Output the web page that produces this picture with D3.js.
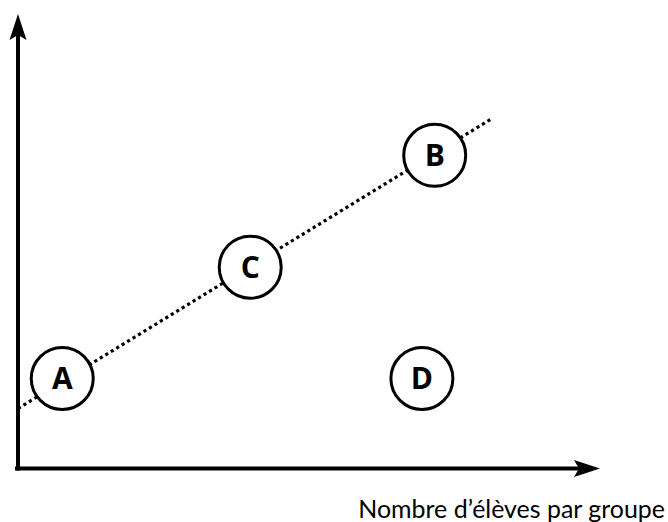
<!DOCTYPE html>
<html>
<head>
<meta charset="utf-8">
<script src="https://cdn.jsdelivr.net/npm/d3@7"></script>
<style>
  html, body { margin: 0; padding: 0; background: #fff; }
  svg { display: block; }
</style>
</head>
<body>
<svg id="chart" width="668" height="522"></svg>
<script>
// ---- data (abstract units, axes have no ticks) ----
const pointLabels = ["A", "C", "B", "D"];
const pointX = [7.6, 39.9, 71.6, 69.4];
const pointY = [19.8, 44.3, 68.9, 19.8];
const trendX = [0, 81.3];
const trendY = [13.2, 76.9];
const xAxisLabel = "Nombre d’élèves par groupe";

// ---- layout ----
const W = 668, H = 522;
const originX = 18, originY = 468.5;
const xEnd = 600, yEnd = 14;

const svg = d3.select("#chart");
const x = d3.scaleLinear().domain([0, 100]).range([originX, xEnd]);
const y = d3.scaleLinear().domain([0, 100]).range([originY, yEnd]);

// axes
const axisColor = "#000";
const headLen = 26, headHalf = 8.5, notch = 5;
svg.append("line")
  .attr("x1", x(0)).attr("y1", originY + 2)
  .attr("x2", x(0)).attr("y2", y(100) + headLen - notch)
  .attr("stroke", axisColor).attr("stroke-width", 4);
svg.append("line")
  .attr("x1", x(0) - 3).attr("y1", y(0))
  .attr("x2", x(100) - headLen + notch).attr("y2", y(0))
  .attr("stroke", axisColor).attr("stroke-width", 4);
const tipY = [x(0), y(100)];
svg.append("path")
  .attr("d", `M${tipY[0]},${tipY[1]} L${tipY[0] + headHalf},${tipY[1] + headLen} L${tipY[0]},${tipY[1] + headLen - notch} L${tipY[0] - headHalf},${tipY[1] + headLen} Z`)
  .attr("fill", axisColor);
const tipX = [x(100), y(0)];
svg.append("path")
  .attr("d", `M${tipX[0]},${tipX[1]} L${tipX[0] - headLen},${tipX[1] - headHalf} L${tipX[0] - headLen + notch},${tipX[1]} L${tipX[0] - headLen},${tipX[1] + headHalf} Z`)
  .attr("fill", axisColor);

// dotted trend line
const lineGen = d3.line().x(d => x(d[0])).y(d => y(d[1]));
svg.append("path")
  .datum(d3.zip(trendX, trendY))
  .attr("d", lineGen)
  .attr("fill", "none")
  .attr("stroke", "#000")
  .attr("stroke-width", 3.2)
  .attr("stroke-dasharray", "3.2 3.2");

// points
const pts = pointLabels.map((l, i) => ({ label: l, x: pointX[i], y: pointY[i] }));
const g = svg.selectAll("g.pt").data(pts).enter().append("g")
  .attr("class", "pt")
  .attr("transform", d => `translate(${x(d.x)},${y(d.y)})`);
g.append("circle")
  .attr("r", 31)
  .attr("fill", "#fff")
  .attr("stroke", "#000")
  .attr("stroke-width", 3);
g.append("text")
  .attr("text-anchor", "middle")
  .attr("dy", "0.36em")
  .attr("font-family", "'Open Sans', Lato, sans-serif")
  .attr("font-weight", "bold")
  .attr("font-size", 30)
  .attr("fill", "#000")
  .text(d => d.label);

// x axis label
const lbl = svg.append("text")
  .attr("x", 665)
  .attr("y", 518)
  .attr("text-anchor", "end")
  .attr("font-family", "Lato, 'Open Sans', sans-serif")
  .attr("font-size", 21)
  .attr("fill", "#000")
  .text(xAxisLabel);
const wTarget = 307;
const wNow = lbl.node().getComputedTextLength();
if (wNow > 0) lbl.attr("font-size", 21 * wTarget / wNow);
</script>
</body>
</html>
